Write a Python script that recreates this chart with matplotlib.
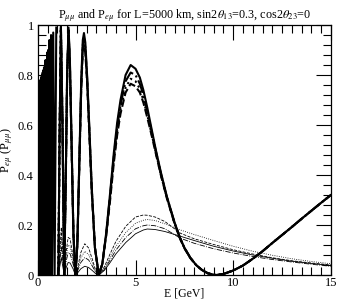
import matplotlib
matplotlib.use('Agg')
import matplotlib.pyplot as plt
from matplotlib.ticker import MultipleLocator

plt.rcParams['font.family'] = ['Liberation Serif', 'DejaVu Serif']
plt.rcParams['mathtext.fontset'] = 'stix'

# low energy part of P_mumu, too dense to separate the four cases
e_low = [0.05, 0.065, 0.075, 0.085, 0.095, 0.105, 0.115, 0.125, 0.135, 0.145,
         0.155, 0.165, 0.175, 0.185, 0.195, 0.205, 0.215, 0.225, 0.235, 0.245,
         0.255, 0.265, 0.275, 0.285, 0.295, 0.305, 0.315, 0.326, 0.338, 0.35,
         0.363, 0.377, 0.393, 0.41, 0.429, 0.45, 0.472, 0.497, 0.524, 0.555,
         0.59, 0.629, 0.675, 0.726, 0.787, 0.858, 0.943]
pmm_low = [0.0, 0.75, 0.0, 0.77, 0.0, 0.76, 0.0, 0.78, 0.0, 0.77,
           0.0, 0.79, 0.0, 0.78, 0.0, 0.80, 0.0, 0.79, 0.0, 0.81,
           0.0, 0.80, 0.0, 0.82, 0.0, 0.0, 0.83, 0.0, 0.80, 0.0,
           0.84, 0.0, 0.86, 0.0, 0.85, 0.0, 0.89, 0.0, 0.90, 0.0,
           0.94, 0.0, 0.96, 0.0, 0.97, 0.0, 0.99]

# P_mumu (thick lines)
e_mm = [1.05, 1.11, 1.18, 1.26, 1.35, 1.43, 1.50, 1.57, 1.64, 1.73,
        1.82, 1.92, 2.02, 2.12, 2.22, 2.30, 2.36, 2.43, 2.52, 2.63,
        2.76, 2.92, 3.12, 3.30, 3.50, 3.70, 3.89, 4.06, 4.23, 4.49,
        4.75, 5.00, 5.22, 5.40, 5.60, 5.82, 6.04, 6.30, 6.60, 7.00,
        7.27, 7.50, 7.80, 8.10, 8.40, 8.70, 9.00, 9.15, 9.50, 10.0,
        10.5, 11.0, 11.5, 12.0, 12.5, 13.0, 13.5, 14.0, 14.5, 15.0]
pmm_solid = [0.0, 0.55, 1.0, 0.62, 0.0, 0.40, 0.82, 0.99, 0.86, 0.52,
             0.17, 0.0, 0.12, 0.45, 0.78, 0.94, 0.968, 0.93, 0.80, 0.60,
             0.35, 0.11, 0.0, 0.045, 0.17, 0.33, 0.49, 0.61, 0.70, 0.80,
             0.84, 0.825, 0.79, 0.74, 0.67, 0.585, 0.50, 0.41, 0.315, 0.21,
             0.15, 0.11, 0.07, 0.04, 0.02, 0.007, 0.001, 0.0, 0.004, 0.018,
             0.038, 0.065, 0.095, 0.128, 0.16, 0.192, 0.225, 0.257, 0.289, 0.32]
pmm_dashdot = [0.0, 0.54, 0.99, 0.61, 0.0, 0.39, 0.81, 0.98, 0.85, 0.51,
               0.17, 0.0, 0.12, 0.44, 0.76, 0.92, 0.95, 0.91, 0.79, 0.59,
               0.34, 0.11, 0.0, 0.045, 0.165, 0.32, 0.475, 0.59, 0.68, 0.775,
               0.81, 0.80, 0.765, 0.72, 0.655, 0.575, 0.495, 0.405, 0.312, 0.208,
               0.149, 0.109, 0.069, 0.04, 0.02, 0.007, 0.001, 0.0, 0.004, 0.018,
               0.038, 0.065, 0.095, 0.128, 0.16, 0.192, 0.225, 0.257, 0.289, 0.32]
pmm_dotted = [0.0, 0.54, 0.985, 0.61, 0.0, 0.39, 0.80, 0.97, 0.84, 0.51,
              0.17, 0.0, 0.12, 0.43, 0.75, 0.91, 0.935, 0.90, 0.78, 0.58,
              0.34, 0.11, 0.0, 0.044, 0.16, 0.31, 0.46, 0.575, 0.66, 0.75,
              0.785, 0.775, 0.745, 0.70, 0.64, 0.565, 0.49, 0.40, 0.31, 0.206,
              0.148, 0.108, 0.069, 0.04, 0.02, 0.007, 0.001, 0.0, 0.004, 0.018,
              0.038, 0.065, 0.095, 0.128, 0.16, 0.192, 0.225, 0.257, 0.289, 0.32]
pmm_dashed = [0.0, 0.53, 0.98, 0.60, 0.0, 0.38, 0.79, 0.96, 0.83, 0.50,
              0.16, 0.0, 0.12, 0.43, 0.74, 0.90, 0.92, 0.89, 0.77, 0.57,
              0.33, 0.11, 0.0, 0.044, 0.16, 0.30, 0.45, 0.56, 0.645, 0.73,
              0.765, 0.755, 0.73, 0.69, 0.63, 0.56, 0.485, 0.398, 0.308, 0.205,
              0.147, 0.107, 0.068, 0.04, 0.02, 0.007, 0.001, 0.0, 0.004, 0.018,
              0.038, 0.065, 0.095, 0.128, 0.16, 0.192, 0.225, 0.257, 0.289, 0.32]

# P_emu (thin lines)
e_em = [1.05, 1.2, 1.35, 1.45, 1.55, 1.65, 1.8, 1.92, 2.05, 2.2,
        2.4, 2.6, 2.8, 2.95, 3.12, 3.4, 3.7, 4.0, 4.5, 5.0,
        5.4, 5.6, 6.0, 6.5, 7.3, 8.0, 9.0, 10.0, 11.0, 12.0,
        13.0, 14.0, 15.0]
pem_solid = [0.0, 0.07, 0.0, 0.03, 0.05, 0.048, 0.025, 0.0, 0.01, 0.025,
             0.035, 0.03, 0.017, 0.006, 0.0, 0.018, 0.05, 0.085, 0.13, 0.165,
             0.18, 0.184, 0.182, 0.174, 0.155, 0.138, 0.115, 0.096, 0.08, 0.067,
             0.055, 0.046, 0.038]
pem_dashdot = [0.0, 0.11, 0.0, 0.055, 0.09, 0.085, 0.045, 0.0, 0.02, 0.05,
               0.07, 0.06, 0.034, 0.012, 0.0, 0.022, 0.06, 0.10, 0.15, 0.185,
               0.197, 0.20, 0.197, 0.185, 0.147, 0.127, 0.105, 0.088, 0.074, 0.062,
               0.052, 0.043, 0.035]
pem_dotted = [0.0, 0.15, 0.0, 0.075, 0.12, 0.115, 0.06, 0.0, 0.027, 0.068,
              0.095, 0.082, 0.046, 0.016, 0.0, 0.027, 0.072, 0.115, 0.17, 0.207,
              0.219, 0.222, 0.218, 0.205, 0.18, 0.162, 0.138, 0.115, 0.095, 0.079,
              0.065, 0.054, 0.045]
pem_dashed = [0.0, 0.19, 0.0, 0.095, 0.15, 0.145, 0.075, 0.0, 0.035, 0.09,
              0.125, 0.108, 0.06, 0.02, 0.0, 0.032, 0.085, 0.135, 0.195, 0.232,
              0.24, 0.239, 0.232, 0.214, 0.167, 0.145, 0.122, 0.101, 0.084, 0.069,
              0.057, 0.048, 0.04]

ytick_vals = [0, 0.2, 0.4, 0.6, 0.8, 1]
ytick_labels = ['0', '0.2', '0.4', '0.6', '0.8', '1']

fig = plt.figure(figsize=(3.38, 3.03), dpi=100)
ax = fig.add_axes([0.112, 0.0924, 0.867, 0.825])

styles = ['-', '-.', ':', '--']
thick = [pmm_solid, pmm_dashdot, pmm_dotted, pmm_dashed]
thin = [pem_solid, pem_dashdot, pem_dotted, pem_dashed]

ax.plot(e_low, pmm_low, color='black', lw=1.5)
for ls, y in zip(styles, thick):
    ax.plot(e_mm, y, color='black', lw=1.5, ls=ls)
for ls, y in zip(styles, thin):
    ax.plot(e_em, y, color='black', lw=0.6, ls=ls)

ax.set_xlim(0, 15)
ax.set_ylim(0, 1)
ax.xaxis.set_major_locator(MultipleLocator(5))
ax.xaxis.set_minor_locator(MultipleLocator(0.5))
ax.set_yticks(ytick_vals)
ax.set_yticklabels(ytick_labels)
ax.yaxis.set_minor_locator(MultipleLocator(0.04))
ax.tick_params(which='both', direction='in', top=True, right=True, labelsize=9, width=0.8)
ax.tick_params(which='major', length=11, pad=3)
ax.tick_params(axis='x', which='major', pad=1.5)
ax.tick_params(which='minor', length=5.5)
for s in ax.spines.values():
    s.set_linewidth(0.9)

ax.set_xlabel('E [GeV]', fontsize=8.5, labelpad=-1)
ax.set_ylabel(r'P$_{e\mu}$ (P$_{\mu\mu}$)', fontsize=9, labelpad=2)
ax.set_title(r'P$_{\mu\mu}$ and P$_{e\mu}$ for L=5000 km, sin2$\theta_{13}$=0.3, cos2$\theta_{23}$=0',
             fontsize=8.7, pad=5)

fig.savefig('out.png', dpi=100)
